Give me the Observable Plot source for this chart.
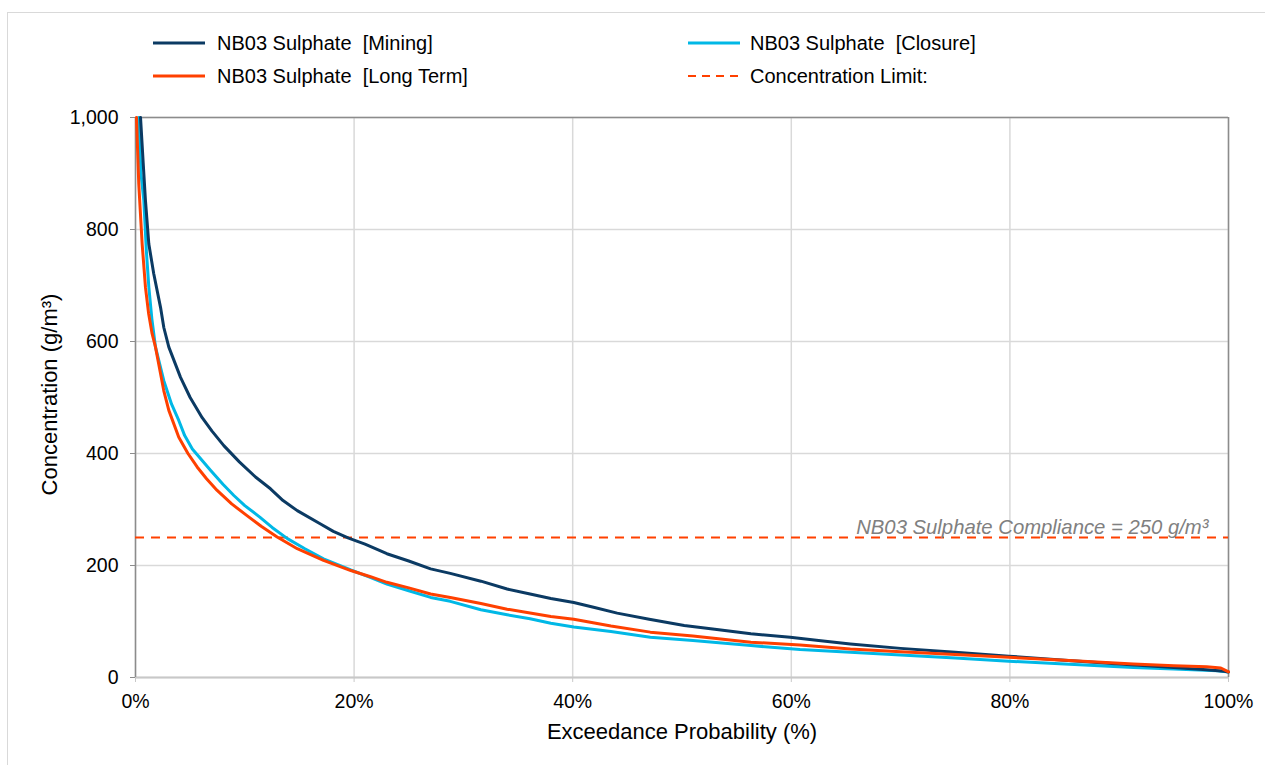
<!DOCTYPE html>
<html>
<head>
<meta charset="utf-8">
<script src="https://cdn.jsdelivr.net/npm/d3@7"></script>
<script src="https://cdn.jsdelivr.net/npm/@observablehq/plot@0.6"></script>
<style>
  html, body { margin: 0; padding: 0; background: #fff; }
  body { width: 1265px; height: 765px; position: relative; overflow: hidden; font-family: "Liberation Sans", Arial, sans-serif; }
  #frame { position: absolute; left: 7px; top: 12px; width: 1280px; height: 780px; border: 1px solid #d9d9d9; box-sizing: border-box; }
  #chart { position: absolute; left: 0; top: 0; }
  .leg { position: absolute; display: flex; align-items: center; font-size: 20px; color: #000; white-space: pre; height: 24px; }
</style>
</head>
<body>
<div id="frame"></div>
<div id="chart"></div>
<div id="legend"></div>
<script>
// Exceedance probability (%) and concentration (g/m³) for each scenario
const miningX = [0.46, 0.7, 0.91, 1.22, 1.67, 2.29, 2.59, 3.05, 4.12, 5.0, 6.1, 7.0, 8.08, 9.5, 10.98, 12.35, 13.5, 14.8, 16.93, 18.1, 19.5, 21, 23, 25, 27, 28.8, 31.6, 34, 36.1, 38, 40.1, 42, 44.07, 47, 50.2, 53, 56.3, 59.9, 62.5, 65.4, 70, 75, 79.9, 85, 90, 95, 98, 99.6, 100];
const miningY = [1000, 920, 852, 774, 721, 661, 625, 590, 536, 500, 464, 440, 414, 385, 358, 337, 316, 298, 274, 261, 249, 238, 221, 208, 194, 186, 172, 158, 149, 141, 134, 125, 115, 104, 93, 86, 78, 72, 66, 60, 52, 45, 38, 31, 24, 18, 14, 11, 10];

const closureX = [0.3, 0.5, 0.76, 1.0, 1.22, 1.5, 1.83, 2.59, 3.3, 3.96, 4.5, 5.2, 6.86, 8, 9.0, 10, 11.4, 12.5, 13.9, 15.5, 17.2, 19.7, 21.3, 23, 25, 27, 28.8, 31.6, 34, 36.1, 38, 40.1, 43.5, 47.1, 51, 56.3, 60.8, 65.4, 70, 75, 79.9, 85, 91.3, 95, 99, 100];
const closureY = [1000, 900, 852, 760, 697, 640, 590, 530, 488, 459, 432, 408, 370, 345, 325, 307, 286, 268, 248, 230, 212, 192, 180, 167, 155, 143, 136, 121, 112, 105, 97, 90, 82, 72, 66, 57, 50, 45, 40, 35, 29, 24, 18, 15, 12, 10];

const longTermX = [0.09, 0.3, 0.61, 0.91, 1.2, 1.52, 1.83, 2.59, 3.05, 3.96, 4.8, 5.64, 6.5, 7.47, 8.8, 10.2, 11.5, 12.96, 14.8, 17.2, 19.7, 21.5, 23, 25, 27, 28.8, 31.6, 34, 36.1, 38, 40.1, 43.5, 47.1, 51, 56.3, 60.8, 65.4, 70, 75, 79.9, 85, 91.3, 95, 98, 99.3, 100];
const longTermY = [1000, 881, 774, 697, 650, 614, 590, 512, 477, 429, 400, 376, 355, 334, 310, 289, 270, 251, 230, 209, 191, 180, 170, 160, 149, 143, 132, 122, 115, 109, 104, 92, 81, 74, 63, 58, 51, 46, 41, 36, 31, 24, 21, 19, 17, 10];

const limitValue = [250];
const limitLabel = "NB03 Sulphate Compliance = 250 g/m³";

const seriesNames = ["NB03 Sulphate  [Mining]", "NB03 Sulphate  [Closure]", "NB03 Sulphate  [Long Term]", "Concentration Limit:"];
const seriesColors = ["#0b3a63", "#00b8e6", "#ff4000", "#ff4000"];

const xTicks = [0, 20, 40, 60, 80, 100];
const yTicks = [0, 200, 400, 600, 800, 1000];
const xLabel = "Exceedance Probability (%)";
const yLabel = "Concentration (g/m³)";

const toRows = (xs, ys) => xs.map((x, i) => ({x, y: ys[i]}));
const mining = toRows(miningX, miningY);
const closure = toRows(closureX, closureY);
const longTerm = toRows(longTermX, longTermY);

const font = "'Liberation Sans', Arial, sans-serif";

const chart = Plot.plot({
  width: 1265,
  height: 765,
  marginLeft: 135,
  marginRight: 37,
  marginTop: 117,
  marginBottom: 88,
  style: {fontFamily: font, fontSize: "19.5px", color: "#000", background: "transparent"},
  x: {domain: [0, 100], ticks: xTicks},
  y: {domain: [0, 1000], ticks: yTicks},
  marks: [
    Plot.gridX(xTicks, {stroke: "#d9d9d9", strokeOpacity: 1, strokeWidth: 1.5}),
    Plot.gridY(yTicks, {stroke: "#d9d9d9", strokeOpacity: 1, strokeWidth: 1.5}),
    Plot.ruleY([0], {stroke: "#c8c8c8", strokeWidth: 2}),
    Plot.ruleY([1000], {stroke: "#8c8c8c", strokeWidth: 1.5}),
    Plot.ruleX([100], {stroke: "#8c8c8c", strokeWidth: 1.5}),
    Plot.ruleX([0], {stroke: "#8c8c8c", strokeWidth: 1.5}),
    Plot.axisY(yTicks, {tickFormat: d3.format(","), tickSize: 5, tickPadding: 12, stroke: "#8c8c8c", fontSize: 19.5, label: null}),
    Plot.axisX(xTicks, {tickFormat: d => d + "%", tickSize: 5, tickPadding: 12, stroke: "#c8c8c8", fontSize: 19.5, label: null}),
    Plot.ruleY(limitValue, {stroke: seriesColors[3], strokeWidth: 2, strokeDasharray: "9,7"}),
    Plot.text(limitValue, {y: d => d, text: () => limitLabel, frameAnchor: "right", textAnchor: "end", dx: -20, dy: -10.5, fill: "#808080", fontStyle: "italic", fontSize: 20.3}),
    Plot.line(closure, {x: "x", y: "y", stroke: seriesColors[1], strokeWidth: 3}),
    Plot.line(mining, {x: "x", y: "y", stroke: seriesColors[0], strokeWidth: 3}),
    Plot.line(longTerm, {x: "x", y: "y", stroke: seriesColors[2], strokeWidth: 3}),
    Plot.text([xLabel], {text: d => d, frameAnchor: "bottom", textAnchor: "middle", dy: 61, fontSize: 22}),
    Plot.text([yLabel], {text: d => d, frameAnchor: "left", textAnchor: "middle", rotate: -90, dx: -86, dy: -3, fontSize: 22})
  ]
});
document.getElementById("chart").appendChild(chart);

// Legend (HTML, above the plot area)
const legendPos = [[153, 31, 12], [688, 31, 10], [153, 64, 12], [688, 64, 10]];
const legend = document.getElementById("legend");
seriesNames.forEach((name, i) => {
  const div = document.createElement("div");
  div.className = "leg";
  div.style.left = legendPos[i][0] + "px";
  div.style.top = legendPos[i][1] + "px";
  const dash = i === 3 ? ' stroke-dasharray="8,6"' : '';
  const sw = i === 3 ? 2 : 3;
  div.innerHTML = `<svg width="52" height="10" style="margin-right:${legendPos[i][2]}px"><line x1="0" y1="5" x2="52" y2="5" stroke="${seriesColors[i]}" stroke-width="${sw}"${dash}/></svg><span>${name}</span>`;
  legend.appendChild(div);
});
</script>
</body>
</html>
